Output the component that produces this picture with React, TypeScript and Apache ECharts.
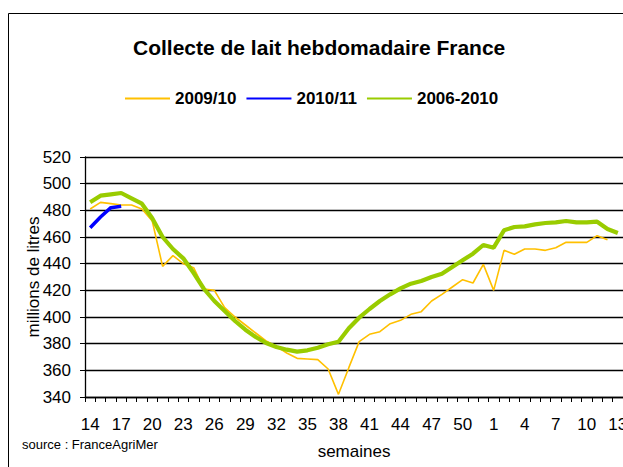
import React, { useEffect, useRef } from "react";
import * as echarts from "echarts";

const weeks: string[] = [
  "14","15","16","17","18","19","20","21","22","23","24","25","26","27","28","29","30","31","32","33",
  "34","35","36","37","38","39","40","41","42","43","44","45","46","47","48","49","50","51","52",
  "1","2","3","4","5","6","7","8","9","10","11","12","13",
];

const s2009_10: (number | null)[] = [
  481, 486, 485, 484, 484, 481, 472, 438, 446, 440, 437, 421, 420, 407, 400, 394, 388, 382, 378, 373,
  369, 368.5, 368, 361, 342, 362, 381.5, 387, 389, 395, 397.5, 402, 404, 412, 417, 422.5, 428, 425.5, 439.5,
  420, 450, 447, 451, 451, 450, 452, 456, 456, 456, 461, 458, null,
];

const s2010_11: (number | null)[] = [
  467, 475, 482, 483, null, null, null, null, null, null, null, null, null, null, null, null, null, null, null, null,
  null, null, null, null, null, null, null, null, null, null, null, null, null, null, null, null, null, null, null,
  null, null, null, null, null, null, null, null, null, null, null, null, null,
];

const s2006_2010: (number | null)[] = [
  486, 491, 492, 493, 489, 485, 474, 460, 451, 444, 433, 421, 412, 404.5, 397, 390.5, 385, 380.5, 377.5, 375.5,
  374, 375, 377, 379.5, 381.5, 391.5, 399.5, 406, 412, 417, 421.5, 425, 427, 430, 432.5, 437.5, 442.5, 447.5, 454,
  452, 465, 467.5, 468, 469.5, 470.5, 471, 472, 471, 471, 471.5, 466, 463,
];

const seriesNames = ["2009/10", "2010/11", "2006-2010"];

export default function App() {
  const ref = useRef<HTMLDivElement>(null);
  useEffect(() => {
    document.body.style.margin = "0";
    if (!ref.current) return;
    const chart = echarts.init(ref.current, undefined, { renderer: "svg" });
    const font = "Arial, 'Liberation Sans', sans-serif";
    chart.setOption({
      animation: false,
      backgroundColor: "#fff",
      textStyle: { fontFamily: font },
      title: {
        text: "Collecte de lait hebdomadaire France",
        left: 133,
        top: 37,
        padding: 0,
        textStyle: { fontSize: 21, fontWeight: "bold", color: "#000", fontFamily: font },
      },
      legend: {
        data: seriesNames,
        left: 124,
        top: 90,
        padding: 0,
        itemWidth: 45,
        itemHeight: 14,
        itemGap: 9,
        itemStyle: { opacity: 0 },
        textStyle: { fontSize: 17, fontWeight: "bold", color: "#000", fontFamily: font },
      },
      graphic: [
        {
          type: "rect",
          shape: { x: 8.5, y: 13.5, width: 700, height: 600 },
          style: { fill: "none", stroke: "#000", lineWidth: 1 },
          silent: true,
        },
        {
          type: "text",
          left: 22,
          top: 438,
          style: { text: "source : FranceAgriMer", fontSize: 13, fill: "#000", fontFamily: font },
        },
      ],
      grid: { left: 85, right: 0, top: 157, bottom: 70, outerBoundsMode: "none", containLabel: false },
      xAxis: {
        type: "category",
        data: weeks,
        boundaryGap: true,
        name: "semaines",
        nameLocation: "middle",
        nameGap: 46,
        nameMoveOverlap: false,
        nameTextStyle: { fontSize: 17, color: "#000", fontFamily: font },
        axisLine: { lineStyle: { color: "#000", width: 1.3 } },
        axisTick: { show: true, interval: 0, length: 5, lineStyle: { color: "#000" } },
        axisLabel: { interval: 2, fontSize: 17, color: "#000", margin: 19, fontFamily: font },
        splitLine: { show: false },
      },
      yAxis: {
        type: "value",
        min: 340,
        max: 520,
        interval: 20,
        name: "millions de litres",
        nameLocation: "middle",
        nameRotate: 90,
        nameGap: 43,
        nameMoveOverlap: false,
        nameTextStyle: { fontSize: 17, color: "#000", fontFamily: font },
        axisLine: { show: true, lineStyle: { color: "#000", width: 1.3 } },
        axisTick: { show: true, length: 5, lineStyle: { color: "#000" } },
        axisLabel: { fontSize: 17, color: "#000", margin: 14, fontFamily: font },
        splitLine: { show: true, lineStyle: { color: "#000", width: 1.3 } },
      },
      series: [
        {
          name: seriesNames[0],
          type: "line",
          data: s2009_10,
          symbol: "none",
          lineStyle: { color: "#FFC000", width: 1.6 },
          itemStyle: { color: "#FFC000" },
          z: 3,
        },
        {
          name: seriesNames[1],
          type: "line",
          data: s2010_11,
          symbol: "none",
          lineStyle: { color: "#0000FF", width: 3.5 },
          itemStyle: { color: "#0000FF" },
          z: 5,
        },
        {
          name: seriesNames[2],
          type: "line",
          data: s2006_2010,
          symbol: "none",
          lineStyle: { color: "#99CC00", width: 4.2 },
          itemStyle: { color: "#99CC00" },
          z: 4,
        },
      ],
    });
    return () => chart.dispose();
  }, []);
  return <div ref={ref} style={{ position: "absolute", left: 0, top: 0, width: 623, height: 467 }} />;
}
